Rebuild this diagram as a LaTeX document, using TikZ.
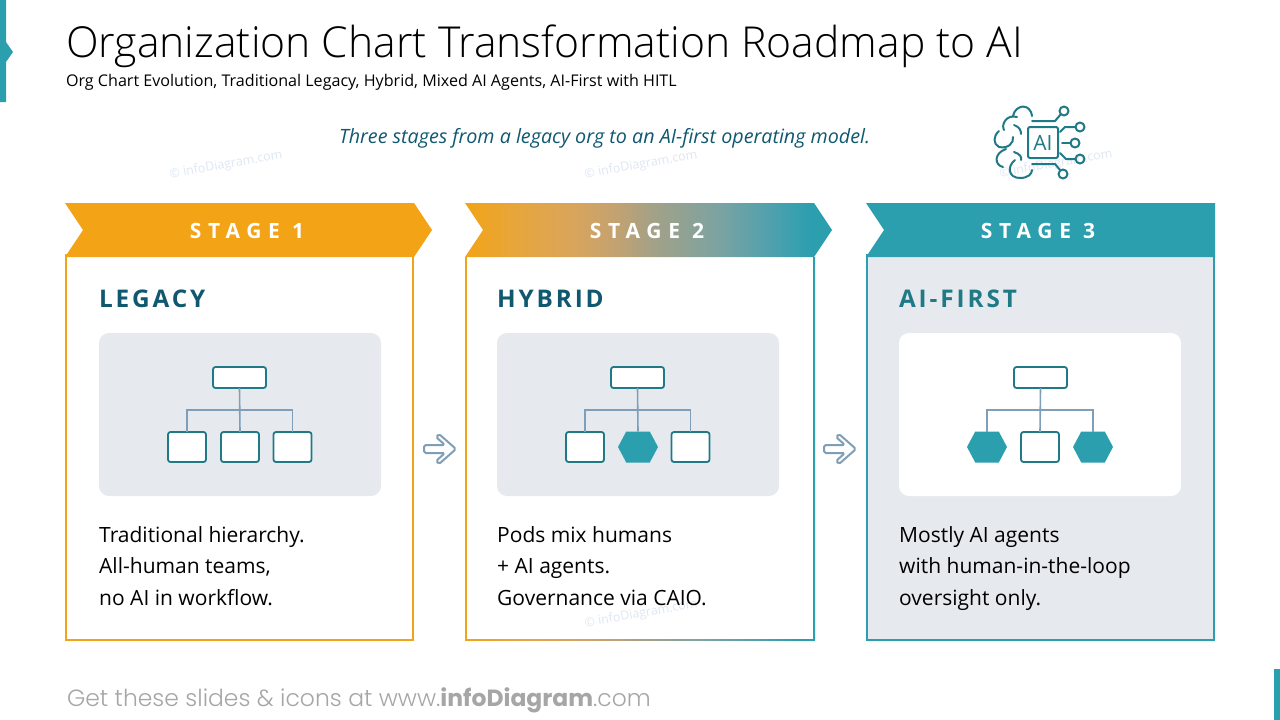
\documentclass[tikz,border=0pt]{standalone}
\usepackage{fontspec}
\usetikzlibrary{shapes.symbols}
\setmainfont{Open Sans}
\newfontfamily\titlefont[UprightFont=* Light]{Open Sans}
\newfontfamily\stagefont[LetterSpace=32,BoldFont=* Bold]{Open Sans}
\newfontfamily\headfont[LetterSpace=12,BoldFont=* Bold]{Open Sans}
\newfontfamily\footfont[UprightFont=* Light,BoldFont=* Bold]{Poppins}
\definecolor{orangeC}{HTML}{F2A416}
\definecolor{tealC}{HTML}{2C9FAF}
\definecolor{boxC}{HTML}{1F7A86}
\definecolor{headC}{HTML}{0F5870}
\definecolor{panelC}{HTML}{E6E9EE}
\definecolor{lineC}{HTML}{7F9FB8}
\definecolor{markC}{HTML}{DFE7F3}
\definecolor{footC}{HTML}{A6A6A6}
\definecolor{gA}{HTML}{E6A63F}
\definecolor{gB}{HTML}{DAA55A}
\definecolor{gC}{HTML}{C4A270}
\definecolor{gD}{HTML}{A5A186}
\definecolor{gE}{HTML}{7AA3A2}
\definecolor{gF}{HTML}{50A1AD}
\pgfdeclarehorizontalshading{stagegrad}{100bp}{
 color(0bp)=(orangeC); color(25bp)=(orangeC); color(32.5bp)=(gA); color(39.3bp)=(gB);
 color(45.4bp)=(gC); color(50.2bp)=(gD); color(59.7bp)=(gE); color(66.5bp)=(gF);
 color(72bp)=(tealC); color(100bp)=(tealC)}
\tikzset{
 txt/.style={anchor=base west,inner sep=0pt,outer sep=0pt},
 stagelabel/.style={anchor=base,inner sep=0pt,text=white,font=\stagefont\bfseries\fontsize{21}{25}\selectfont},
 cardhead/.style={txt,font=\headfont\bfseries\fontsize{24.3}{28}\selectfont},
 bodytext/.style={anchor=north west,inner sep=0pt,align=left,font=\fontsize{21}{31.5}\selectfont},
 panel/.style={rounded corners=10pt,fill=#1},
 humanbox/.style={draw=boxC,line width=1.8pt,fill=white,rounded corners=2.5pt,minimum width=38pt,minimum height=30pt,inner sep=0pt,outer sep=0pt},
 bossbox/.style={humanbox,minimum width=53pt,minimum height=21pt},
 aibox/.style={signal,signal to=east and west,signal pointer angle=124,fill=tealC,minimum width=40pt,minimum height=31pt,inner sep=0pt,outer sep=0pt},
 orgline/.style={draw=lineC,line width=1.6pt},
 nextarrow/.style={draw=lineC,line width=2pt,line join=round,rounded corners=1.8pt,fill=white},
 watermark/.style={inner sep=0pt,text=markC,rotate=10,font=\fontsize{12.5}{15}\selectfont},
 iconline/.style={draw=boxC,line width=2pt,line cap=round,line join=round},
}
\newcommand{\drawchart}[8]{%
 \node[bossbox] (#1top) at (#2,377.5) {};
 \node[#6] (#1a) at (#3,447) {};
 \node[#7] (#1b) at (#4,447) {};
 \node[#8] (#1c) at (#5,447) {};
 \coordinate (#1bus) at (#2,410);
 \draw[orgline] (#1top.south) -- (#1b.north);
 \draw[orgline] (#1a.north) |- (#1bus) -| (#1c.north);
}
\newcommand{\drawarrow}[1]{%
 \draw[nextarrow,shift={(#1,0)}] (0,445) -- (21,445) -- (12,437) -- (15,434) -- (32,449) -- (15,464) -- (12,461) -- (21,453) -- (0,453) -- cycle;
}
\begin{document}
\begin{tikzpicture}[x=1pt,y=-1pt]
\useasboundingbox (0,0) rectangle (1280,720);
\fill[white] (0,0) rectangle (1280,720);
% accents
\fill[tealC] (0,0) -- (6,0) -- (6,42) -- (13,52) -- (6,62) -- (6,102) -- (0,102) -- cycle;
\fill[tealC] (1274,669) rectangle (1280,720);
% title
\node[txt,font=\titlefont\fontsize{42.65}{50}\selectfont] (title) at (66,57) {Organization Chart Transformation Roadmap to AI};
\node[txt,font=\fontsize{16.1}{19}\selectfont] (subtitle) at (66,86) {Org Chart Evolution, Traditional Legacy, Hybrid, Mixed AI Agents, AI-First with HITL};
\node[txt,text=headC,font=\itshape\fontsize{19.7}{23}\selectfont] (lead) at (339,143) {Three stages from a legacy org to an AI-first operating model.};
% watermarks
\node[watermark] (wm1) at (226,165) {© infoDiagram.com};
\node[watermark] (wm2) at (641,165) {© infoDiagram.com};
\node[watermark] (wm3) at (1056,164) {© infoDiagram.com};
% icon
\begin{scope}[iconline]
 \draw[rounded corners=2pt] (1028,127) rectangle (1058,158);
 \node[inner sep=0pt,text=boxC,font=\fontsize{21}{24}\selectfont] (iconai) at (1043,143) {AI};
 \draw (1064,111) circle (4.5) (1080,127) circle (4.5) (1075,143) circle (4.5) (1080,159) circle (4.5) (1063,174) circle (4.5);
 \draw (1032,121) -- (1055,121) -- (1061,114);
 \draw (1060,132) -- (1065,127) -- (1075.5,127);
 \draw (1062,143) -- (1070.5,143);
 \draw (1060,153) -- (1066,159) -- (1075.5,159);
 \draw (1032,164) -- (1055,164) -- (1060,170);
 \draw (1013,116) .. controls (1015,105) and (1030,102) .. (1032,116);
 \draw (1017,117) .. controls (1006,114) and (1001,125) .. (1004,130);
 \draw (1014,125) .. controls (1020,127) and (1021,131) .. (1021,134);
 \draw (999,131) .. controls (993,136) and (993,144) .. (999,147) .. controls (1008,149) and (1014,143) .. (1013,137);
 \draw (1006,149) .. controls (994,153) and (994,165) .. (1003,167);
 \draw (1014,152) .. controls (1020,154) and (1022,157) .. (1021,160);
 \draw (1015,160) .. controls (1007,166) and (1008,178) .. (1020,178) .. controls (1028,178) and (1032,174) .. (1032,170);
\end{scope}
% card 1
\draw[orangeC,line width=2pt] (66,255) rectangle (413,640);
\fill[orangeC] (65,203) -- (414,203) -- (432,230) -- (414,257) -- (65,257) -- (83,230) -- cycle;
\node[stagelabel] (s1) at (247,238) {STAGE 1};
\node[cardhead,text=headC] (h1) at (99,307) {LEGACY};
\fill[panel=panelC] (99,333) rectangle (381,496);
\drawchart{a}{239.5}{187}{240}{292.5}{humanbox}{humanbox}{humanbox}
\node[bodytext] (b1) at (99,526) {Traditional hierarchy.\\All-human teams,\\no AI in workflow.};
% card 2
\shade[shading=stagegrad] (465,257) rectangle (815,640.7);
\fill[white] (466.7,257) rectangle (813.3,639);
\shade[shading=stagegrad] (465,203) -- (814,203) -- (832,230) -- (814,257) -- (465,257) -- (483,230) -- cycle;
\node[stagelabel] (s2) at (647,238) {STAGE 2};
\node[cardhead,text=headC] (h2) at (497,307) {HYBRID};
\fill[panel=panelC] (497,333) rectangle (779,496);
\drawchart{b}{637.5}{585}{638}{690.5}{humanbox}{aibox}{humanbox}
\node[watermark] (wm4) at (641,614) {© infoDiagram.com};
\node[bodytext] (b2) at (497,526) {Pods mix humans\\+ AI agents.\\Governance via CAIO.};
% card 3
\draw[tealC,line width=2pt,fill=panelC] (867,255) rectangle (1214,640);
\fill[tealC] (866,203) -- (1215,203) -- (1215,257) -- (866,257) -- (884,230) -- cycle;
\node[stagelabel] (s3) at (1038,238) {STAGE 3};
\node[cardhead,text=boxC] (h3) at (899,307) {AI-FIRST};
\fill[panel=white] (899,333) rectangle (1181,496);
\drawchart{c}{1040.5}{987}{1040}{1093}{aibox}{humanbox}{aibox}
\node[bodytext] (b3) at (899,526) {Mostly AI agents\\with human-in-the-loop\\oversight only.};
% arrows
\drawarrow{424}
\drawarrow{824}
% footer
\node[txt,text=footC,font=\footfont\fontsize{23.45}{27}\selectfont] (foot) at (67,706) {Get these slides \& icons at www.\textbf{infoDiagram}.com};
\end{tikzpicture}
\end{document}
